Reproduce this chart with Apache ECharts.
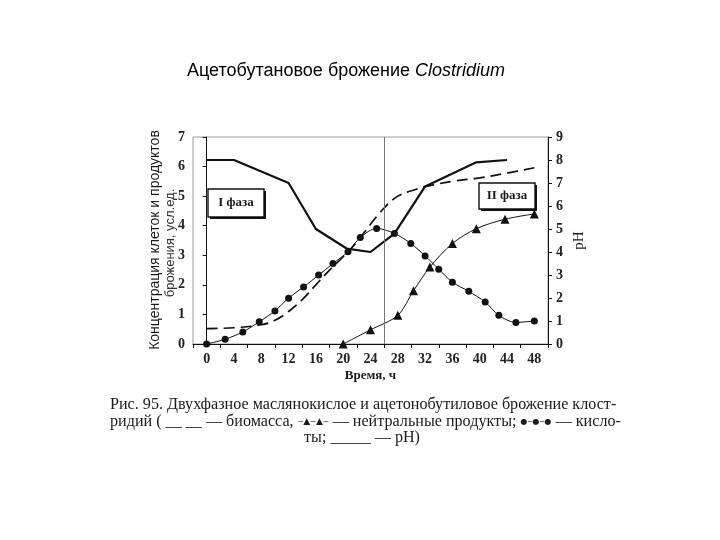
<!DOCTYPE html>
<html><head><meta charset="utf-8">
<script src="https://cdn.jsdelivr.net/npm/echarts@6/dist/echarts.min.js"></script>
<style>html,body{margin:0;padding:0;background:#fff}#c{width:720px;height:540px}</style>
</head><body><div id="c"></div>
<script>
// ---- data ----
const xTickLabels = [0, 4, 8, 12, 16, 20, 24, 28, 32, 36, 40, 44, 48];
const xTickMarks = [-2, 2, 6, 10, 14, 18, 22, 26, 30, 34, 38, 42, 46, 50];
const phTime = [0, 4, 12, 16, 20.5, 24, 27.5, 32, 39.5, 44];
const phValue = [8.0, 8.0, 7.0, 5.0, 4.15, 4.0, 4.8, 6.85, 7.9, 8.0];
const biomassTime = [0, 4, 8, 10, 12, 14, 16, 18, 20, 22, 24, 26, 28, 30, 32, 36, 40, 44, 48];
const biomassValue = [0.52, 0.55, 0.65, 0.8, 1.1, 1.5, 2.0, 2.5, 2.95, 3.45, 4.05, 4.6, 5.0, 5.18, 5.32, 5.5, 5.62, 5.78, 5.96];
const acidTime = [0, 2.7, 5.3, 7.7, 10, 12, 14.2, 16.4, 18.5, 20.7, 22.5, 24.9, 27.5, 29.9, 32, 34, 36, 38.4, 40.8, 42.8, 45.3, 48];
const acidValue = [0, 0.16, 0.41, 0.75, 1.12, 1.55, 1.93, 2.33, 2.72, 3.12, 3.6, 3.91, 3.74, 3.4, 2.98, 2.53, 2.09, 1.78, 1.42, 0.97, 0.73, 0.78];
const neutralTime = [20, 24, 28, 30.3, 32.7, 36, 39.5, 43.7, 48];
const neutralValue = [0, 0.48, 0.97, 1.8, 2.6, 3.4, 3.9, 4.22, 4.4];
const phaseBoundary = 26;

const titleText = 'Ацетобутановое брожение ';
const titleItalic = 'Clostridium';
const yNameLine1 = 'Концентрация клеток и продуктов';
const yNameLine2 = 'брожения, усл.ед.';
const xName = 'Время, ч';
const yRightName = 'pH';
const phase1 = 'I фаза';
const phase2 = 'II фаза';
const caption1 = 'Рис. 95. Двухфазное маслянокислое и ацетонобутиловое брожение клост-';

// ---- helpers ----
const pairs = (t, v) => t.map((x, i) => [x, v[i]]);
const serif = 'Liberation Serif';
const ink = '#1a1a1a';

// measure caption to fit width
const cv = document.createElement('canvas').getContext('2d');
cv.font = '15px "Liberation Serif"';
const w15 = cv.measureText(caption1).width || 500;
const capSize = Math.max(12, Math.min(17, 15 * 507 / w15));

const chart = echarts.init(document.getElementById('c'), null, {renderer: 'canvas'});

function phaseBox(x, y, w, h, label) {
  return {
    type: 'group', x: x, y: y,
    children: [
      {type: 'rect', shape: {x: 2, y: 2, width: w, height: h}, style: {fill: '#111'}},
      {type: 'rect', shape: {x: 0, y: 0, width: w, height: h}, style: {fill: '#fff', stroke: '#111', lineWidth: 1.4}},
      {type: 'text', x: w / 2, y: h / 2, style: {text: label, align: 'center', verticalAlign: 'middle',
        fontFamily: serif, fontWeight: 'bold', fontSize: 13, fill: ink}}
    ]
  };
}

const tickFont = {fontFamily: serif, fontSize: 14, fontWeight: 'bold', color: '#222'};

const option = {
  backgroundColor: '#fff',
  animation: false,
  grid: {left: 193, right: 172, top: 137, bottom: 196, show: true, borderColor: '#9a9a9a', borderWidth: 1},
  xAxis: {
    type: 'value', min: -2, max: 50,
    name: xName, nameLocation: 'middle', nameGap: 25,
    nameTextStyle: {fontFamily: serif, fontWeight: 'bold', fontSize: 13, color: ink},
    axisLine: {lineStyle: {color: '#111', width: 1}},
    axisTick: {show: true, customValues: xTickMarks, length: 4, lineStyle: {color: '#111'}},
    axisLabel: Object.assign({customValues: xTickLabels, margin: 8}, tickFont),
    splitLine: {show: false}
  },
  yAxis: [
    {
      type: 'value', min: 0, max: 7, interval: 1, position: 'left',
      axisLine: {show: true, lineStyle: {color: '#111'}},
      axisTick: {show: true, length: 4, lineStyle: {color: '#111'}},
      axisLabel: Object.assign({margin: 8}, tickFont),
      splitLine: {show: false}
    },
    {
      type: 'value', min: 0, max: 9, interval: 1, position: 'right',
      name: yRightName, nameLocation: 'middle', nameRotate: 90, nameGap: 24,
      nameTextStyle: {fontFamily: serif, fontSize: 15, color: ink},
      axisLine: {show: true, lineStyle: {color: '#111'}},
      axisTick: {show: true, length: 4, lineStyle: {color: '#111'}},
      axisLabel: Object.assign({margin: 8}, tickFont),
      splitLine: {show: false}
    }
  ],
  series: [
    {
      name: 'biomass', type: 'line', yAxisIndex: 0, data: pairs(biomassTime, biomassValue),
      smooth: 0.4, showSymbol: false, symbol: 'none',
      lineStyle: {color: '#111', width: 1.7, type: [11, 6]}
    },
    {
      name: 'acids', type: 'line', yAxisIndex: 0, data: pairs(acidTime, acidValue),
      smooth: 0.3, symbol: 'circle', symbolSize: 7,
      itemStyle: {color: '#111'}, lineStyle: {color: '#111', width: 1}
    },
    {
      name: 'neutral', type: 'line', yAxisIndex: 0, data: pairs(neutralTime, neutralValue),
      smooth: 0.3, symbol: 'triangle', symbolSize: 9,
      itemStyle: {color: '#111'}, lineStyle: {color: '#111', width: 1}
    },
    {
      name: 'pH', type: 'line', yAxisIndex: 1, data: pairs(phTime, phValue),
      smooth: false, symbol: 'none',
      lineStyle: {color: '#111', width: 2.2},
      markLine: {
        silent: true, symbol: ['none', 'none'], label: {show: false},
        lineStyle: {color: '#777', width: 1, type: 'solid'},
        data: [{xAxis: phaseBoundary}]
      }
    }
  ],
  graphic: [
    {type: 'text', x: 187, y: 71, style: {
      text: '{n|' + titleText + '}{i|' + titleItalic + '}', verticalAlign: 'middle', align: 'left',
      rich: {n: {fontFamily: 'Liberation Sans', fontSize: 18, fill: '#000'},
             i: {fontFamily: 'Liberation Sans', fontSize: 18, fontStyle: 'italic', fill: '#000'}}
    }},
    {type: 'text', x: 155, y: 240, rotation: Math.PI / 2, style: {
      text: yNameLine1, align: 'center', verticalAlign: 'middle',
      fontFamily: 'Liberation Sans', fontSize: 14, fill: ink}},
    {type: 'text', x: 170, y: 243, rotation: Math.PI / 2, style: {
      text: yNameLine2, align: 'center', verticalAlign: 'middle',
      fontFamily: 'Liberation Sans', fontSize: 13, fill: '#333'}},
    phaseBox(208, 189, 56, 28, phase1),
    phaseBox(479, 183, 56, 26, phase2),
    {type: 'text', x: 110, y: 405, style: {
      text: caption1, verticalAlign: 'middle', align: 'left',
      fontFamily: serif, fontSize: capSize, fill: ink}},
    {type: 'text', x: 110, y: 422, style: {
      text: 'ридий ( {d|__ __} — биомасса, {t|‒▲‒▲‒} — нейтральные продукты; {c|●‒●‒●} — кисло-',
      verticalAlign: 'middle', align: 'left',
      fontFamily: serif, fontSize: capSize, fill: ink,
      rich: {d: {fontFamily: serif, fontSize: capSize, fill: ink},
             t: {fontFamily: 'DejaVu Sans', fontSize: 9, fill: ink},
             c: {fontFamily: 'DejaVu Sans', fontSize: 8, fill: ink}}
    }},
    {type: 'text', x: 362, y: 438, style: {
      text: 'ты; {d|_____} — pH)', verticalAlign: 'middle', align: 'center',
      fontFamily: serif, fontSize: capSize, fill: ink,
      rich: {d: {fontFamily: serif, fontSize: capSize, fill: ink}}
    }}
  ]
};
chart.setOption(option);
</script></body></html>
